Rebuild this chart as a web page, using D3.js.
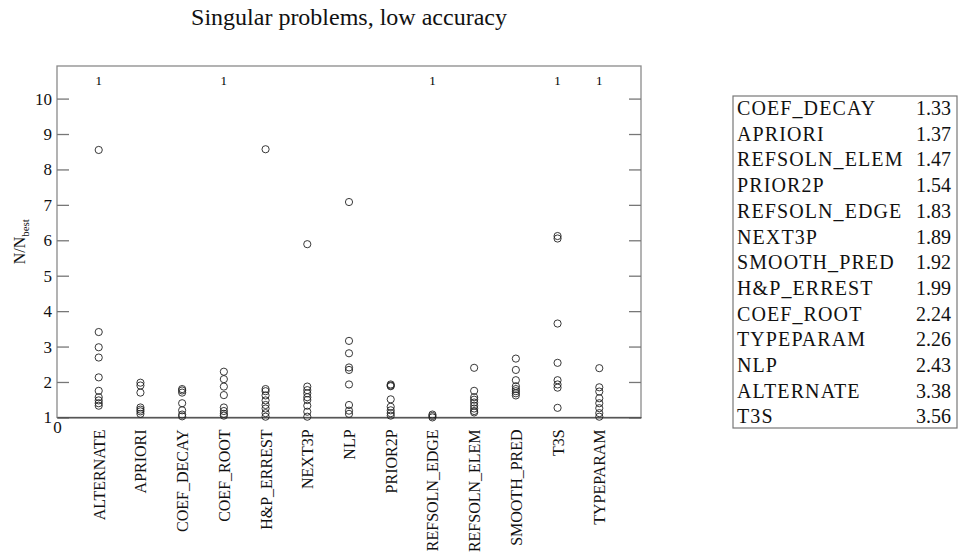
<!DOCTYPE html>
<html>
<head>
<meta charset="utf-8">
<script src="https://cdn.jsdelivr.net/npm/d3@7"></script>
<style>
  body { margin: 0; background: #fff; }
  svg { display: block; font-family: "Liberation Serif", "Times New Roman", serif; }
</style>
</head>
<body>
<div id="chart-container"></div>
<script>

//Data

const categories = ["ALTERNATE", "APRIORI", "COEF_DECAY", "COEF_ROOT", "H&P_ERREST", "NEXT3P",
    "NLP", "PRIOR2P", "REFSOLN_EDGE", "REFSOLN_ELEM", "SMOOTH_PRED", "T3S", "TYPEPARAM"];

const alternate = [8.55, 3.41, 2.98, 2.69, 2.13, 1.75, 1.57, 1.48, 1.40, 1.33];
const apriori = [1.98, 1.90, 1.70, 1.28, 1.22, 1.17, 1.10];
const coefDecay = [1.80, 1.76, 1.70, 1.40, 1.20, 1.08, 1.03];
const coefRoot = [2.29, 2.08, 1.87, 1.63, 1.28, 1.18, 1.10, 1.05];
const hpErrest = [8.57, 1.80, 1.74, 1.62, 1.48, 1.35, 1.25, 1.12, 1.02];
const next3p = [5.89, 1.87, 1.77, 1.68, 1.57, 1.49, 1.33, 1.16, 1.02];
const nlp = [7.08, 3.16, 2.81, 2.41, 2.34, 1.93, 1.35, 1.19, 1.10];
const prior2p = [1.93, 1.90, 1.88, 1.51, 1.30, 1.20, 1.12, 1.05];
const refsolnEdge = [1.08, 1.04, 1.00];
const refsolnElem = [2.40, 1.75, 1.57, 1.50, 1.42, 1.33, 1.25, 1.18, 1.14];
const smoothPred = [2.66, 2.34, 2.05, 1.88, 1.80, 1.74, 1.68, 1.62];
const t3s = [6.12, 6.05, 3.65, 2.54, 2.05, 1.93, 1.84, 1.27];
const typeparam = [2.39, 1.85, 1.73, 1.54, 1.40, 1.26, 1.12, 1.02];

//number of points above the plotted range, per category
const offScale = [1, 0, 0, 1, 0, 0, 0, 0, 1, 0, 0, 1, 1];

const yTicks = [1, 2, 3, 4, 5, 6, 7, 8, 9, 10];

//ranking table on the right
const rankNames = ["COEF_DECAY", "APRIORI", "REFSOLN_ELEM", "PRIOR2P", "REFSOLN_EDGE", "NEXT3P",
    "SMOOTH_PRED", "H&P_ERREST", "COEF_ROOT", "TYPEPARAM", "NLP", "ALTERNATE", "T3S"];
const rankValues = ["1.33", "1.37", "1.47", "1.54", "1.83", "1.89", "1.92", "1.99", "2.24", "2.26",
    "2.43", "3.38", "3.56"];

const series = [alternate, apriori, coefDecay, coefRoot, hpErrest, next3p, nlp, prior2p,
    refsolnEdge, refsolnElem, smoothPred, t3s, typeparam];

//Set dimensions

const W = 958, H = 558;
const plot = { left: 57, right: 641, top: 66, bottom: 417.4 };

const x = d3.scaleLinear()
    .domain([0, categories.length + 1])
    .range([plot.left, plot.right]);

const y = d3.scaleLinear()
    .domain([1, 10.92])
    .range([plot.bottom, plot.top]);

const svg = d3.select("#chart-container")
    .append("svg")
        .attr("width", W)
        .attr("height", H);

//Frame

svg.append("rect")
    .attr("x", plot.left)
    .attr("y", plot.top)
    .attr("width", plot.right - plot.left)
    .attr("height", plot.bottom - plot.top)
    .attr("fill", "none")
    .attr("stroke", "#8a8a8a")
    .attr("stroke-width", 1.3);

//Left axis, ticks pointing inward

svg.append("g")
    .attr("transform", `translate(${plot.left},0)`)
    .style("font-size", "17px")
    .style("font-family", "Liberation Serif")
    .call(d3.axisLeft(y)
        .tickValues(yTicks)
        .tickFormat(d3.format("d"))
        .tickSize(-12)
        .tickPadding(5))
    .call(g => g.select(".domain").remove())
    .call(g => g.selectAll(".tick line").attr("stroke", "#777").attr("stroke-width", 1.3))
    .selectAll(".tick text")
    .attr("fill", "#111");

//Right axis ticks, no labels

svg.append("g")
    .attr("transform", `translate(${plot.right},0)`)
    .call(d3.axisRight(y)
        .tickValues(yTicks)
        .tickFormat("")
        .tickSize(-12))
    .call(g => g.select(".domain").remove())
    .selectAll(".tick line")
    .attr("stroke", "#777")
    .attr("stroke-width", 1.3);

//Bottom axis, only the 0 at the origin

svg.append("g")
    .attr("transform", `translate(0,${plot.bottom})`)
    .style("font-size", "17px")
    .style("font-family", "Liberation Serif")
    .call(d3.axisBottom(x)
        .tickValues([0])
        .tickSize(0)
        .tickPadding(4))
    .call(g => g.select(".domain").attr("stroke", "#444").attr("stroke-width", 1.3))
    .selectAll(".tick text")
    .attr("fill", "#111");

//Category labels, rotated

svg.append("g")
    .selectAll("text")
    .data(categories)
    .join("text")
    .attr("transform", (d, i) => `translate(${x(i + 1) + 6},${plot.bottom + 12}) rotate(-90)`)
    .style("text-anchor", "end")
    .style("font-size", "16px")
    .attr("fill", "#111")
    .text(d => d);

//Counts of off-scale points along the top

svg.append("g")
    .selectAll("text")
    .data(offScale.map((n, i) => ({ n, i })).filter(d => d.n > 0))
    .join("text")
    .attr("x", d => x(d.i + 1))
    .attr("y", 85)
    .style("text-anchor", "middle")
    .style("font-size", "13px")
    .attr("fill", "#000")
    .text(d => d.n);

//Data points

const points = series.flatMap((vals, i) => vals.map(v => ({ i, v })));

svg.append("g")
    .selectAll("circle")
    .data(points)
    .join("circle")
    .attr("cx", d => x(d.i + 1))
    .attr("cy", d => y(d.v))
    .attr("r", 3.6)
    .attr("fill", "none")
    .attr("stroke", "#222")
    .attr("stroke-width", 0.9);

//Y-axis label

const yLab = svg.append("text")
    .attr("transform", `translate(25,${(plot.top + plot.bottom) / 2}) rotate(-90)`)
    .style("text-anchor", "middle")
    .style("font-size", "16px")
    .attr("fill", "#111");
yLab.append("tspan").text("N/N");
yLab.append("tspan")
    .attr("dy", 4)
    .style("font-size", "11px")
    .text("best");

//Chart title

svg.append("text")
    .attr("x", (plot.left + plot.right) / 2)
    .attr("y", 25)
    .style("text-anchor", "middle")
    .style("font-size", "24px")
    .attr("fill", "#111")
    .text("Singular problems, low accuracy");

//Ranking table

const table = svg.append("g");

table.append("rect")
    .attr("x", 733)
    .attr("y", 96)
    .attr("width", 224)
    .attr("height", 332)
    .attr("fill", "none")
    .attr("stroke", "#777")
    .attr("stroke-width", 1.2);

table.selectAll(".rank-name")
    .data(rankNames)
    .join("text")
    .attr("class", "rank-name")
    .attr("x", 737)
    .attr("y", (d, i) => 115 + i * 25.7)
    .style("font-size", "20px")
    .style("letter-spacing", "1.1px")
    .attr("fill", "#111")
    .text(d => d);

table.selectAll(".rank-value")
    .data(rankValues)
    .join("text")
    .attr("class", "rank-value")
    .attr("x", 951)
    .attr("y", (d, i) => 115 + i * 25.7)
    .style("text-anchor", "end")
    .style("font-size", "20px")
    .attr("fill", "#111")
    .text(d => d);

</script>
</body>
</html>
